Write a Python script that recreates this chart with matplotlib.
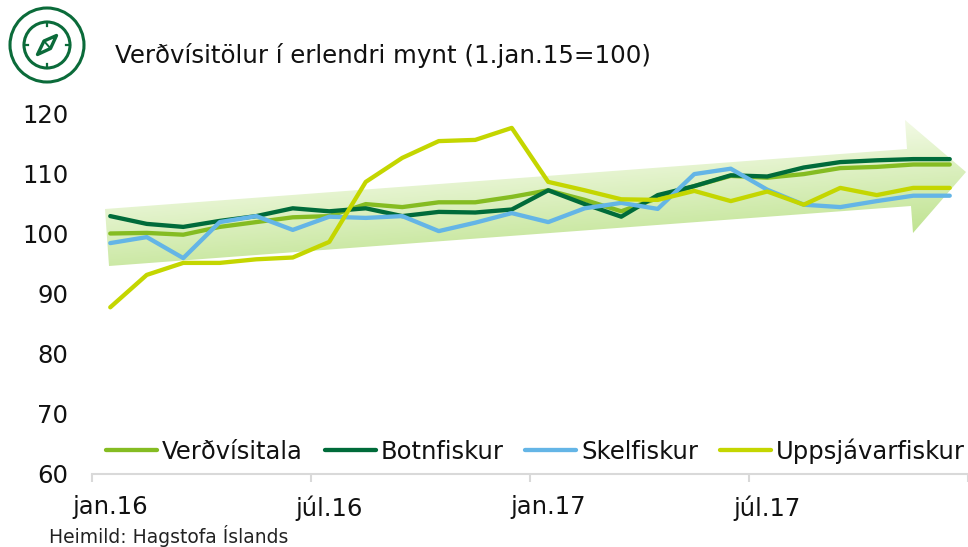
from __future__ import annotations

import matplotlib

matplotlib.use("Agg")

import matplotlib.pyplot as plt
import numpy as np
from matplotlib.patches import Circle, Polygon

WIDTH = 968
HEIGHT = 547

months = [
    "jan.16", "feb.16", "mar.16", "apr.16", "maí.16", "jún.16",
    "júl.16", "ágú.16", "sep.16", "okt.16", "nóv.16", "des.16",
    "jan.17", "feb.17", "mar.17", "apr.17", "maí.17", "jún.17",
    "júl.17", "ágú.17", "sep.17", "okt.17", "nóv.17", "des.17",
]
verdvisitala = [
    100.0, 100.1, 99.8, 101.1, 101.9, 102.7, 102.9, 104.9, 104.4, 105.2, 105.2, 106.1,
    107.2, 105.6, 103.7, 105.9, 107.9, 109.6, 109.3, 109.9, 110.9, 111.1, 111.5, 111.5,
]
botnfiskur = [
    102.9, 101.6, 101.1, 102.1, 102.9, 104.2, 103.7, 104.2, 102.9, 103.6, 103.5, 104.0,
    107.2, 104.9, 102.8, 106.4, 107.9, 109.7, 109.5, 111.0, 111.9, 112.2, 112.4, 112.4,
]
skelfiskur = [
    98.4, 99.4, 95.9, 101.9, 102.9, 100.6, 102.8, 102.6, 102.9, 100.4, 101.8, 103.4,
    101.9, 104.2, 105.1, 104.1, 109.9, 110.8, 107.3, 104.8, 104.4, 105.4, 106.3, 106.3,
]
uppsjavarfiskur = [
    87.7, 93.1, 95.1, 95.1, 95.7, 96.0, 98.6, 108.6, 112.6, 115.4, 115.6, 117.6,
    108.6, 107.2, 105.7, 105.6, 107.1, 105.4, 107.0, 104.8, 107.6, 106.4, 107.6, 107.6,
]
series = [
    ("Verðvísitala", verdvisitala, "#85BC22"),
    ("Botnfiskur", botnfiskur, "#006B3A"),
    ("Skelfiskur", skelfiskur, "#64B5E6"),
    ("Uppsjávarfiskur", uppsjavarfiskur, "#C4D600"),
]
y_ticks = [60, 70, 80, 90, 100, 110, 120]

ARROW = [(105, 209), (907, 149), (905, 120), (966, 172), (913, 233), (911, 206), (109, 266)]
ICON_GREEN = "#0B6B3A"
FONT_SIZE = 17.5


def _draw_arrow(ax: plt.Axes) -> None:
    # gradient runs across the shaft, so it tilts with the arrow
    xx, yy = np.meshgrid(np.arange(WIDTH), np.arange(HEIGHT))
    t = np.clip((0.075 * xx + 0.997 * yy - 187) / (301 - 187), 0, 1)[..., None]
    light = np.array([0xF3, 0xFA, 0xE6]) / 255
    dark = np.array([0xBF, 0xE3, 0x90]) / 255
    image = ax.imshow(light + (dark - light) * t, extent=(0, WIDTH, HEIGHT, 0), aspect="auto", zorder=1)
    clip = Polygon(ARROW, closed=True, transform=ax.transData, facecolor="none", edgecolor="none")
    ax.add_patch(clip)
    image.set_clip_path(clip)


def _draw_icon(ax: plt.Axes) -> None:
    cx, cy = 47, 45
    ax.add_patch(Circle((cx, cy), 37, fill=False, edgecolor=ICON_GREEN, linewidth=2.2, zorder=3))
    ax.add_patch(Circle((cx, cy), 23, fill=False, edgecolor=ICON_GREEN, linewidth=2.2, zorder=3))
    for dx, dy in [(0, -1), (0, 1), (-1, 0), (1, 0)]:
        ax.plot([cx + dx * 23, cx + dx * 19], [cy + dy * 23, cy + dy * 19], color=ICON_GREEN, lw=1.6, zorder=3)
    needle = [(56.5, 35.5), (50.5, 48.5), (37.5, 54.5), (44, 41)]
    ax.add_patch(Polygon(needle, closed=True, facecolor="white", edgecolor=ICON_GREEN, linewidth=2.4, joinstyle="round", zorder=3))
    ax.plot([44, 50.5], [41, 48.5], color=ICON_GREEN, lw=1.4, zorder=3)


def main() -> None:
    fig = plt.figure(figsize=(WIDTH / 100, HEIGHT / 100), dpi=100)

    back = fig.add_axes([0, 0, 1, 1], zorder=0)
    back.axis("off")
    _draw_arrow(back)
    back.set_xlim(0, WIDTH)
    back.set_ylim(HEIGHT, 0)
    _draw_icon(back)

    ax = fig.add_axes(
        [92 / WIDTH, 1 - 473.5 / HEIGHT, 876 / WIDTH, 360 / HEIGHT],
        zorder=1,
    )
    ax.patch.set_alpha(0)

    x = np.arange(len(months))
    for name, values, color in series:
        ax.plot(x, values, color=color, lw=3.1, label=name, solid_capstyle="round", solid_joinstyle="round", clip_on=False)

    ax.set_xlim(-0.5, len(months) - 0.5)
    ax.set_ylim(60, 120)
    ax.set_yticks(y_ticks)
    ax.tick_params(axis="y", length=0, labelsize=FONT_SIZE, pad=17, labelcolor="#111111")

    # ticks sit between months, labels sit on the month itself
    ax.set_xticks(np.arange(-0.5, len(months), 6))
    ax.set_xticklabels([])
    ax.set_xticks(x[::6], labels=months[::6], minor=True)
    ax.tick_params(axis="x", which="major", length=5.5, width=1.5, color="#D9D9D9")
    ax.tick_params(axis="x", which="minor", length=0, labelsize=FONT_SIZE, pad=15.5, labelcolor="#111111")

    for side in ("top", "right", "left"):
        ax.spines[side].set_visible(False)
    ax.spines["bottom"].set_color("#D9D9D9")
    ax.spines["bottom"].set_linewidth(1.5)

    ax.legend(
        loc="center left",
        bbox_to_anchor=(14 / 876, (473.5 - 451) / 360),
        ncol=4,
        frameon=False,
        fontsize=FONT_SIZE,
        handlelength=2.1,
        handletextpad=0.2,
        columnspacing=0.9,
        borderaxespad=0,
        borderpad=0,
        labelcolor="#111111",
    )

    fig.text(115 / WIDTH, 1 - 56 / HEIGHT, "Verðvísitölur í erlendri mynt (1.jan.15=100)", fontsize=17.65, va="center", color="#111111")
    fig.text(49 / WIDTH, 1 - 536 / HEIGHT, "Heimild: Hagstofa Íslands", fontsize=13.5, va="center", color="#222222")

    fig.savefig("out.png", dpi=100)
    plt.close(fig)


if __name__ == "__main__":
    main()
